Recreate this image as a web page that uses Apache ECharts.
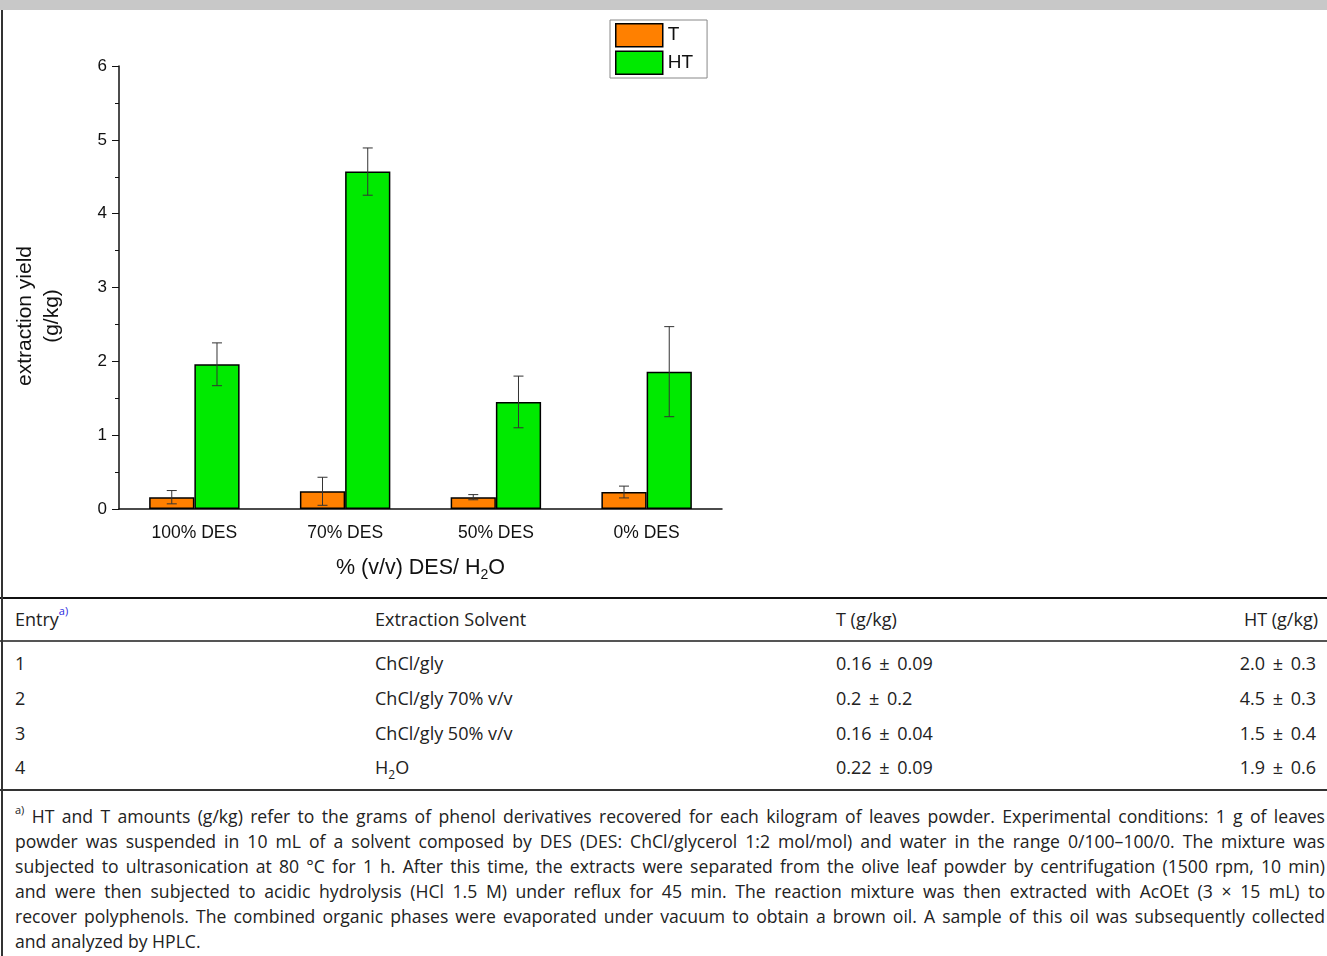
<!DOCTYPE html>
<html><head><meta charset="utf-8">
<script src="https://cdn.jsdelivr.net/npm/echarts@6/dist/echarts.min.js"></script>
<style>
html,body{margin:0;padding:0;background:#fff;}
#page{position:relative;width:1327px;height:956px;overflow:hidden;font-family:"Open Sans",sans-serif;color:#222;}
#chart{position:absolute;left:0;top:0;width:1327px;height:596px;}
#topbar{position:absolute;left:0;top:0;width:1327px;height:10px;background:#c8c8c8;z-index:5;}
#leftrule{position:absolute;left:1px;top:10px;width:2px;height:946px;background:#333;z-index:5;}
.hline{position:absolute;left:0;width:1327px;height:2px;}
.row{position:absolute;left:0;width:1327px;height:35px;line-height:35px;font-size:18px;white-space:nowrap;}
.row > span{position:absolute;top:0;}
.c1{left:15px;} .c2{left:375px;} .c3{left:836px;} .c4{right:11px;}
.row > span.h4{right:9px;}
.pm{margin:0 3px;}
sup.note{color:#2a2adf;font-size:11px;vertical-align:top;position:relative;top:-9px;}
.fn{position:absolute;left:15px;width:1310px;height:25px;line-height:25px;font-size:17.6px;white-space:nowrap;text-align:justify;text-align-last:justify;}
.fn.last{text-align-last:left;}
.fn sup{font-size:11px;vertical-align:top;position:relative;top:-7px;}
</style></head>
<body>
<div id="page">
  <div id="chart"></div>
  <div id="topbar"></div>
  <div id="leftrule"></div>
  <div class="hline" style="top:597px;background:#111;"></div>
  <div class="hline" style="top:640px;background:#555;"></div>
  <div class="hline" style="top:789px;background:#333;"></div>
  <div id="table"></div>
  <div id="foot"></div>
</div>
<script>
// ---- chart data ----
const categories = ['100% DES', '70% DES', '50% DES', '0% DES'];
const tValues  = [0.16, 0.24, 0.16, 0.23];
const tErrors  = [0.09, 0.19, 0.035, 0.08];
const htValues = [1.96, 4.57, 1.45, 1.86];
const htErrors = [0.29, 0.32, 0.35, 0.61];
const yMin = 0, yMax = 6, yStep = 1;
const yTitle = ['extraction yield', '(g/kg)'];

// ---- table data ----
const tableHeader = ['Entry', 'Extraction Solvent', 'T (g/kg)', 'HT (g/kg)'];
const tableEntries = ['1', '2', '3', '4'];
const tableSolvents = ['ChCl/gly', 'ChCl/gly 70% v/v', 'ChCl/gly 50% v/v', 'H<sub style="font-size:12px">2</sub>O'];
const tableT = ['0.16 \u00b1 0.09', '0.2 \u00b1 0.2', '0.16 \u00b1 0.04', '0.22 \u00b1 0.09'];
const tableHT = ['2.0 \u00b1 0.3', '4.5 \u00b1 0.3', '1.5 \u00b1 0.4', '1.9 \u00b1 0.6'];
const footLines = [
  'HT and T amounts (g/kg) refer to the grams of phenol derivatives recovered for each kilogram of leaves powder. Experimental conditions: 1 g of leaves',
  'powder was suspended in 10 mL of a solvent composed by DES (DES: ChCl/glycerol 1:2 mol/mol) and water in the range 0/100\u2013100/0. The mixture was',
  'subjected to ultrasonication at 80 \u00b0C for 1 h. After this time, the extracts were separated from the olive leaf powder by centrifugation (1500 rpm, 10 min)',
  'and were then subjected to acidic hydrolysis (HCl 1.5 M) under reflux for 45 min. The reaction mixture was then extracted with AcOEt (3 \u00d7 15 mL) to',
  'recover polyphenols. The combined organic phases were evaporated under vacuum to obtain a brown oil. A sample of this oil was subsequently collected',
  'and analyzed by HPLC.'
];

// ---- build table ----
const tbl = document.getElementById('table');
function pm(s) { return s.replace(' \u00b1 ', ' <span class="pm">\u00b1</span> '); }
function addRow(top, cells, header) {
  const r = document.createElement('div');
  r.className = 'row'; r.style.top = top + 'px';
  r.innerHTML = cells.map((c, i) => '<span class="c' + (i + 1) + (header && i === 3 ? ' h4' : '') + '">' + c + '</span>').join('');
  tbl.appendChild(r);
}
addRow(602, [tableHeader[0] + '<sup class="note">a)</sup>', tableHeader[1], tableHeader[2], tableHeader[3]], true);
const rowCenters = [663, 698, 733, 767];
tableEntries.forEach((e, i) => addRow(rowCenters[i] - 17.5, [e, tableSolvents[i], pm(tableT[i]), pm(tableHT[i])], false));
const foot = document.getElementById('foot');
footLines.forEach((t, i) => {
  const d = document.createElement('div');
  d.className = 'fn' + (i === footLines.length - 1 ? ' last' : '');
  d.style.top = (803.5 + i * 25) + 'px';
  d.innerHTML = (i === 0 ? '<sup>a)</sup> ' : '') + t;
  foot.appendChild(d);
});

// ---- chart ----
const chart = echarts.init(document.getElementById('chart'));
const FONT = '"Liberation Sans", Arial, sans-serif';
function errorSeries(name, values, errors, side) {
  return {
    type: 'custom', name: name, z: 10,
    data: values.map((v, i) => [i, v - errors[i], v + errors[i]]),
    encode: { x: 0, y: [1, 2] },
    renderItem: function (params, api) {
      const i = api.value(0);
      const lo = api.coord([i, api.value(1)]);
      const hi = api.coord([i, api.value(2)]);
      const band = api.size([1, 0])[0];
      const x = lo[0] + side * band * 0.15;
      const cap = 5;
      const style = { stroke: '#333', lineWidth: 1 };
      return { type: 'group', children: [
        { type: 'line', shape: { x1: x, y1: hi[1], x2: x, y2: lo[1] }, style: style },
        { type: 'line', shape: { x1: x - cap, y1: hi[1], x2: x + cap, y2: hi[1] }, style: style },
        { type: 'line', shape: { x1: x - cap, y1: lo[1], x2: x + cap, y2: lo[1] }, style: style }
      ]};
    }
  };
}
chart.setOption({
  animation: false,
  textStyle: { fontFamily: FONT },
  grid: { left: 119, right: 605, top: 66, bottom: 87, containLabel: false },
  graphic: [{
    type: 'text', x: 39, y: 316, rotation: Math.PI / 2,
    style: { text: yTitle.join('\n'), align: 'center', verticalAlign: 'middle',
      fontSize: 21, lineHeight: 27, fontFamily: FONT, fill: '#111' }
  }],
  legend: {
    data: ['T', 'HT'], orient: 'vertical', left: 610, top: 20,
    itemWidth: 47, itemHeight: 23, itemGap: 3, itemTextGap: 8,
    padding: [3, 14, 3, 5], borderColor: '#888', borderWidth: 1, backgroundColor: '#fff',
    icon: 'rect',
    textStyle: { fontSize: 19, color: '#111', fontFamily: FONT },
    itemStyle: { borderColor: '#000', borderWidth: 1.5 }
  },
  xAxis: {
    type: 'category', data: categories,
    name: '% (v/v) DES/ H{sub|2}O', nameLocation: 'middle', nameGap: 46,
    nameTextStyle: { fontSize: 21.5, color: '#111', fontFamily: FONT,
      rich: { sub: { fontSize: 14, verticalAlign: 'bottom', padding: [13, 0, 0, 0], fontFamily: FONT, color: '#111' } } },
    axisLine: { lineStyle: { color: '#111', width: 1.5 } },
    axisTick: { alignWithLabel: true, length: 10, lineStyle: { color: '#111', width: 1 } },
    axisLabel: { fontSize: 17.5, color: '#111', margin: 15, fontFamily: FONT }
  },
  yAxis: {
    type: 'value', min: yMin, max: yMax, interval: yStep,
    axisLine: { show: true, lineStyle: { color: '#111', width: 1.5 } },
    axisTick: { show: true, length: 7, lineStyle: { color: '#111', width: 1 } },
    minorTick: { show: true, splitNumber: 2, length: 4, lineStyle: { color: '#111', width: 1 } },
    splitLine: { show: false },
    axisLabel: { fontSize: 17, color: '#111', margin: 12, fontFamily: FONT }
  },
  series: [
    { name: 'T', type: 'bar', data: tValues, barGap: '0%', barCategoryGap: '40%',
      itemStyle: { color: '#ff8000', borderColor: '#000', borderWidth: 1.5 } },
    { name: 'HT', type: 'bar', data: htValues, barGap: '0%', barCategoryGap: '40%',
      itemStyle: { color: '#00ea00', borderColor: '#000', borderWidth: 1.5 } },
    errorSeries('T err', tValues, tErrors, -1),
    errorSeries('HT err', htValues, htErrors, 1)
  ]
});
</script>
</body></html>
